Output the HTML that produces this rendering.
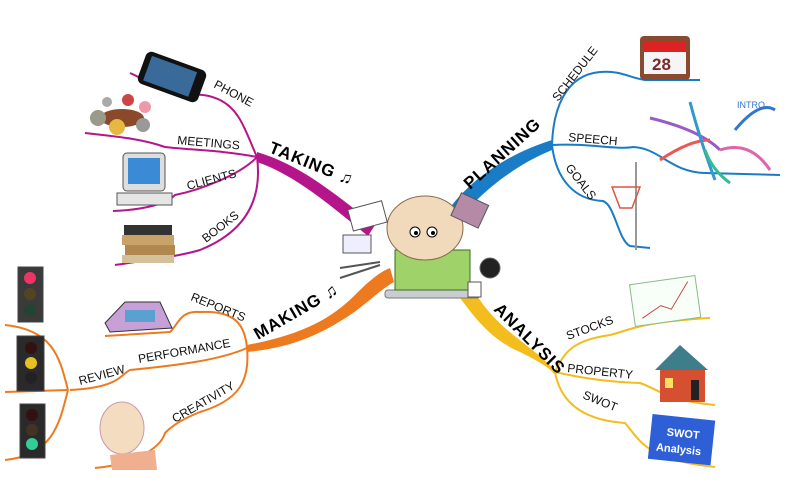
<!DOCTYPE html>
<html><head><meta charset="utf-8"><style>
html,body{margin:0;padding:0;background:#fff;}
svg{display:block;font-family:"Liberation Sans",sans-serif;}
.t{font-size:12px;fill:#111;}
.b{font-size:17px;font-weight:bold;fill:#000;letter-spacing:1px;}
</style></head><body>
<svg width="800" height="500" viewBox="0 0 800 500" xmlns="http://www.w3.org/2000/svg">
<rect width="800" height="500" fill="#fff"/>
<!-- TAKING magenta -->
<g fill="none" stroke="#b5158a" stroke-width="2">
<path d="M257,157 C245,130 240,110 220,100 C205,93 195,95 180,93 C160,88 145,80 130,73"/>
<path d="M257,157 C220,150 190,150 165,147 C140,138 110,136 85,133"/>
<path d="M257,157 C240,175 200,190 175,195 C165,205 140,210 113,211"/>
<path d="M257,157 C262,195 250,230 200,250 C180,256 150,260 115,265"/>
</g>
<path d="M257,152 C300,165 330,190 375,225 L368,236 C330,205 295,175 257,162 Z" fill="#b5158a"/>
<!-- PLANNING blue -->
<g fill="none" stroke="#1a7cc4" stroke-width="2">
<path d="M552,145 C553,110 565,75 600,72 C620,70 630,78 645,80 L700,80"/>
<path d="M552,145 C590,143 615,150 633,147 C660,148 670,172 705,173 L780,175"/>
<path d="M552,145 C556,180 575,200 603,201 C615,205 618,240 630,246 L650,248"/>
</g>
<path d="M552,140 C520,150 480,170 452,205 L440,225 L450,232 C475,195 515,165 552,150 Z" fill="#1a7cc4"/>
<!-- MAKING orange -->
<g fill="none" stroke="#ee7a1f" stroke-width="2">
<path d="M247,348 C245,325 235,310 200,312 C180,310 178,325 170,332 L105,336"/>
<path d="M247,348 C220,360 180,365 130,370 C120,375 118,388 70,390"/>
<path d="M68,390 C60,360 55,330 5,325"/>
<path d="M68,390 L5,392"/>
<path d="M68,390 C60,420 55,455 5,460"/>
<path d="M247,348 C250,380 240,400 200,412 C175,422 168,430 165,433 C160,450 130,465 95,468"/>
</g>
<path d="M247,345 C300,335 330,320 355,295 C370,280 380,272 390,268 L394,282 C380,290 365,305 350,315 C320,335 290,348 247,352 Z" fill="#ee7a1f"/>
<!-- ANALYSIS yellow -->
<g fill="none" stroke="#f2bd1d" stroke-width="2">
<path d="M555,372 C565,350 575,340 610,335 C630,330 640,322 710,318"/>
<path d="M555,372 C590,380 615,382 640,383 C660,390 665,400 715,405"/>
<path d="M555,372 C560,400 580,420 625,423 C640,440 645,460 715,467"/>
</g>
<path d="M445,280 C465,300 480,335 520,352 C540,362 550,368 556,376 L553,368 C530,345 500,330 480,300 C470,285 462,275 455,270 Z" fill="#f2bd1d"/>
<!-- labels -->
<text class="t" transform="translate(213,87) rotate(28)">PHONE</text>
<text class="t" transform="translate(177,144) rotate(5)">MEETINGS</text>
<text class="t" transform="translate(188,190) rotate(-15)">CLIENTS</text>
<text class="t" transform="translate(206,243) rotate(-38)">BOOKS</text>
<text class="b" transform="translate(268,152) rotate(22)">TAKING ♫</text>
<text class="t" transform="translate(160,101) rotate(0)"></text>
<text class="t" transform="translate(558,102) rotate(-52)">SCHEDULE</text>
<text class="t" transform="translate(568,141) rotate(5)">SPEECH</text>
<text class="t" transform="translate(565,168) rotate(52)">GOALS</text>
<text class="b" transform="translate(470,190) rotate(-42)">PLANNING</text>
<text class="t" transform="translate(190,300) rotate(22)">REPORTS</text>
<text class="t" transform="translate(139,363) rotate(-10)">PERFORMANCE</text>
<text class="t" transform="translate(80,385) rotate(-15)">REVIEW</text>
<text class="t" transform="translate(175,423) rotate(-30)">CREATIVITY</text>
<text class="b" transform="translate(258,340) rotate(-30)">MAKING ♫</text>
<text class="t" transform="translate(167,340) rotate(0)"></text>
<text class="b" transform="translate(493,310) rotate(45)">ANALYSIS</text>
<text class="t" transform="translate(568,340) rotate(-20)">STOCKS</text>
<text class="t" transform="translate(567,372) rotate(6)">PROPERTY</text>
<text class="t" transform="translate(582,398) rotate(22)">SWOT</text>
<!-- center figure -->
<rect x="385" y="290" width="95" height="8" rx="3" fill="#c9ccd1" stroke="#777"/>
<path d="M395,250 L470,250 L470,290 L395,290 Z" fill="#9fd36a" stroke="#3a6a20"/>
<ellipse cx="425" cy="228" rx="38" ry="32" fill="#f1d9bb" stroke="#8a6a4a"/>
<circle cx="415" cy="232" r="5" fill="#fff" stroke="#000"/><circle cx="432" cy="232" r="5" fill="#fff" stroke="#000"/>
<circle cx="416" cy="233" r="2"/><circle cx="433" cy="233" r="2"/>
<rect x="350" y="205" width="35" height="22" fill="#fff" stroke="#555" transform="rotate(-15 367 216)"/>
<rect x="343" y="235" width="28" height="18" fill="#eef" stroke="#555"/>
<rect x="455" y="198" width="30" height="25" fill="#b58aa6" stroke="#555" transform="rotate(25 470 210)"/>
<circle cx="490" cy="268" r="10" fill="#222" stroke="#666"/>
<rect x="468" y="282" width="13" height="15" fill="#fff" stroke="#555"/>
<path d="M340,268 L380,262 M340,278 L380,265" stroke="#555" stroke-width="2"/>
<!-- phone -->
<g transform="rotate(20 172 77)"><rect x="140" y="60" width="64" height="34" rx="6" fill="#111"/><rect x="146" y="64" width="48" height="26" fill="#3a6a9a"/></g>
<!-- meetings -->
<ellipse cx="122" cy="118" rx="22" ry="9" fill="#8a4a2a"/>
<circle cx="98" cy="118" r="8" fill="#9a9a8a"/><circle cx="128" cy="100" r="6" fill="#c44"/><circle cx="145" cy="107" r="6" fill="#e9a"/><circle cx="117" cy="127" r="8" fill="#e6b840"/><circle cx="143" cy="125" r="7" fill="#999"/><circle cx="107" cy="102" r="5" fill="#aaa"/>
<!-- computer -->
<rect x="123" y="153" width="42" height="38" rx="4" fill="#ddd" stroke="#555"/><rect x="128" y="158" width="32" height="26" fill="#3a8ad6"/>
<rect x="117" y="193" width="55" height="12" fill="#e5e5e5" stroke="#555"/>
<!-- books -->
<rect x="124" y="225" width="48" height="10" fill="#333"/><rect x="122" y="235" width="52" height="10" fill="#c9a26a"/><rect x="125" y="245" width="50" height="10" fill="#b08850"/><rect x="122" y="255" width="52" height="8" fill="#d6c09a"/>
<!-- traffic lights -->
<g stroke="#444"><rect x="18" y="267" width="25" height="55" fill="#3a3a3a"/><rect x="17" y="336" width="27" height="55" fill="#2a2a2a"/><rect x="20" y="404" width="25" height="54" fill="#2a2a2a"/></g>
<circle cx="30" cy="278" r="6" fill="#e36"/><circle cx="30" cy="294" r="6" fill="#542"/><circle cx="30" cy="310" r="6" fill="#243"/>
<circle cx="31" cy="348" r="6" fill="#311"/><circle cx="31" cy="363" r="6" fill="#e6c020"/><circle cx="31" cy="378" r="6" fill="#222"/>
<circle cx="32" cy="415" r="6" fill="#311"/><circle cx="32" cy="430" r="6" fill="#432"/><circle cx="32" cy="444" r="6" fill="#3c9"/>
<!-- acme -->
<path d="M105,323 L125,302 L160,302 L172,328 L110,332 Z" fill="#c8a0d8" stroke="#333"/><rect x="125" y="310" width="30" height="12" fill="#5aa0d0"/>
<!-- baby -->
<ellipse cx="122" cy="428" rx="22" ry="26" fill="#f3dcc0" stroke="#c9a"/><path d="M110,455 L155,450 L157,470 L112,470 Z" fill="#f0b090"/>
<!-- calendar -->
<rect x="640" y="36" width="50" height="44" rx="4" fill="#8a4a30"/><rect x="644" y="42" width="42" height="10" fill="#d22"/><rect x="644" y="52" width="42" height="22" fill="#f5f5f5"/>
<text x="652" y="70" font-size="17" font-weight="bold" fill="#7a2a2a">28</text>
<!-- speech doodles -->
<g fill="none" stroke-width="3"><path d="M650,118 Q700,130 720,150" stroke="#9a5ac8"/><path d="M660,160 Q690,140 710,140" stroke="#e55"/><path d="M690,102 Q700,140 715,180" stroke="#39c"/><path d="M735,130 Q760,100 775,110" stroke="#37c"/><path d="M720,150 Q750,140 770,170" stroke="#d6a"/><path d="M705,150 Q712,170 730,183" stroke="#3b9"/></g>
<text x="737" y="108" font-size="9" fill="#37c">INTRO</text>
<!-- basketball -->
<line x1="636" y1="162" x2="636" y2="250" stroke="#999" stroke-width="2"/><path d="M612,187 L640,187 L632,208 L620,208 Z" fill="none" stroke="#d54" stroke-width="1.5"/>
<!-- chart -->
<g transform="rotate(-8 665 300)"><rect x="632" y="280" width="66" height="42" fill="#f8fff8" stroke="#8b8"/><path d="M640,315 L660,305 L670,310 L690,285" stroke="#c44" fill="none"/></g>
<!-- house -->
<path d="M655,370 L680,345 L708,370 Z" fill="#3e7d8a"/><rect x="660" y="370" width="45" height="32" fill="#d55030"/><rect x="691" y="380" width="8" height="20" fill="#222"/><rect x="665" y="378" width="8" height="10" fill="#ffe060"/>
<!-- swot -->
<g transform="rotate(6 680 440)"><rect x="650" y="417" width="63" height="45" fill="#2f5fd6"/><text x="666" y="437" font-size="11" font-weight="bold" fill="#fff">SWOT</text><text x="657" y="453" font-size="11" font-weight="bold" fill="#fff">Analysis</text></g>
</svg>
</body></html>
